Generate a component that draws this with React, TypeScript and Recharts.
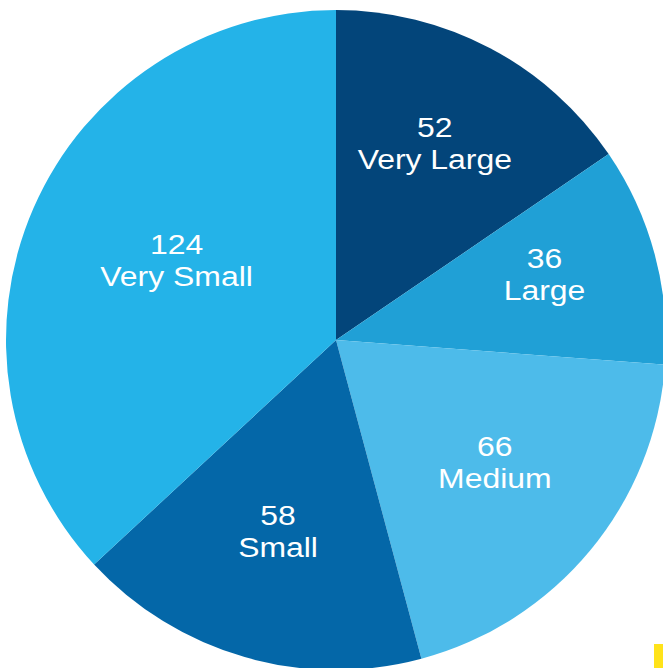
import { Cell, Pie, PieChart } from 'recharts'

const categories = ['Very Large', 'Large', 'Medium', 'Small', 'Very Small']
const counts = [52, 36, 66, 58, 124]
const sliceColors = ['#03457a', '#20a0d6', '#4dbbea', '#0467a8', '#24b3e8']

const chartData = categories.map((name, i) => ({ name, count: counts[i], color: sliceColors[i] }))

const RADIAN = Math.PI / 180

function SliceLabel(props: any) {
  const { cx, cy, outerRadius, startAngle, endAngle, midAngle, payload } = props
  // roughly the centroid of the sector
  const half = (Math.abs(endAngle - startAngle) / 2) * RADIAN
  const r = ((2 / 3) * outerRadius * Math.sin(half)) / half
  const x = cx + r * Math.cos(-midAngle * RADIAN)
  const y = cy + r * Math.sin(-midAngle * RADIAN)
  return (
    <text
      transform={`translate(${x}, ${y}) scale(1.14, 1)`}
      x={0}
      y={0}
      fill="#ffffff"
      textAnchor="middle"
      fontFamily="'Liberation Sans', Arial, sans-serif"
      fontSize={28}
    >
      <tspan x={0} dy={-16}>{payload.count}</tspan>
      <tspan x={0} dy={32}>{payload.name}</tspan>
    </text>
  )
}

export default function App() {
  return (
    <div style={{ position: 'absolute', left: 0, top: 0, width: 663, height: 668, overflow: 'hidden', background: '#ffffff' }}>
      <PieChart width={663} height={668} margin={{ top: 0, right: 0, bottom: 0, left: 0 }}>
        <Pie
          data={chartData}
          dataKey="count"
          nameKey="name"
          cx={336}
          cy={340}
          outerRadius={330}
          startAngle={90}
          endAngle={-270}
          stroke="none"
          labelLine={false}
          label={SliceLabel}
          isAnimationActive={false}
        >
          {chartData.map((row) => (
            <Cell key={row.name} fill={row.color} />
          ))}
        </Pie>
      </PieChart>
      <div style={{ position: 'absolute', left: 654, top: 644, width: 9, height: 24, background: '#ffe31a' }} />
    </div>
  )
}
